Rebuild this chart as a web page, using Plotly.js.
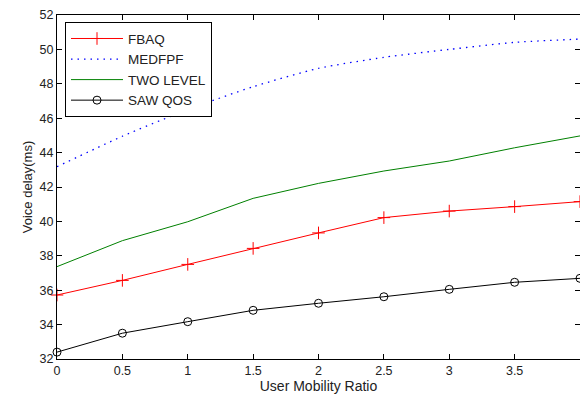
<!DOCTYPE html>
<html>
<head>
<meta charset="utf-8">
<script src="https://cdn.plot.ly/plotly-3.0.1.min.js"></script>
<style>
html,body{margin:0;padding:0;background:#fff;}
#chart{width:580px;height:394px;}
</style>
</head>
<body>
<div id="chart"></div>
<script>
var mobilityRatio = [0, 0.5, 1, 1.5, 2, 2.5, 3, 3.5, 4];
var fbaq      = [35.72, 36.57, 37.50, 38.43, 39.33, 40.22, 40.60, 40.86, 41.15];
var medfpf    = [43.18, 44.95, 46.50, 47.83, 48.90, 49.54, 50.00, 50.41, 50.60];
var twoLevel  = [37.37, 38.88, 39.98, 41.34, 42.21, 42.93, 43.51, 44.28, 44.97];
var sawQos    = [32.40, 33.50, 34.17, 34.83, 35.24, 35.62, 36.05, 36.46, 36.69];
var seriesNames = ['FBAQ', 'MEDFPF', 'TWO LEVEL', 'SAW QOS'];
var xTicks = [0, 0.5, 1, 1.5, 2, 2.5, 3, 3.5, 4];
var yTicks = [32, 34, 36, 38, 40, 42, 44, 46, 48, 50, 52];

var fam = 'Liberation Sans, Arial, sans-serif';
var tickFont = {family: fam, size: 12.5, color: '#222'};

var traces = [
  {x: mobilityRatio, y: fbaq, name: seriesNames[0], mode: 'lines+markers',
   line: {color: '#ff0000', width: 1},
   marker: {symbol: 'cross-thin-open', size: 9, color: '#ff0000', line: {color: '#ff0000', width: 1}},
   cliponaxis: false},
  {x: mobilityRatio, y: medfpf, name: seriesNames[1], mode: 'lines',
   line: {color: '#0000ff', width: 1.3, dash: '1.5px,5px', shape: 'spline', smoothing: 0.6}},
  {x: mobilityRatio, y: twoLevel, name: seriesNames[2], mode: 'lines',
   line: {color: '#008000', width: 1}},
  {x: mobilityRatio, y: sawQos, name: seriesNames[3], mode: 'lines+markers',
   line: {color: '#000000', width: 1},
   marker: {symbol: 'circle-open', size: 8, color: '#000000', line: {color: '#000000', width: 1}},
   cliponaxis: false}
];

var axisCommon = {
  showgrid: false, zeroline: false, showline: true, linecolor: '#000', linewidth: 1,
  mirror: 'ticks', ticks: 'inside', ticklen: 5, tickcolor: '#000', tickwidth: 1,
  tickfont: tickFont
};

var layout = {
  width: 580, height: 394,
  margin: {l: 57, r: 0, t: 15, b: 35},
  paper_bgcolor: '#fff', plot_bgcolor: '#fff',
  font: tickFont,
  showlegend: true,
  legend: {x: 0.0153, y: 0.979, xanchor: 'left', yanchor: 'top',
           bgcolor: '#fff', bordercolor: '#000', borderwidth: 1,
           font: {family: fam, size: 13.5, color: '#222'},
           tracegroupgap: 0, itemwidth: 52},
  xaxis: Object.assign({}, axisCommon, {
    range: [0, 4], tickvals: xTicks, ticktext: xTicks.map(String),
    title: {text: 'User Mobility Ratio', font: {family: fam, size: 14, color: '#222'}, standoff: 4}
  }),
  yaxis: Object.assign({}, axisCommon, {
    range: [32, 52], tickvals: yTicks, ticktext: yTicks.map(String),
    title: {text: 'Voice delay(ms)', font: {family: fam, size: 13, color: '#222'}, standoff: 4}
  })
};

Plotly.newPlot('chart', traces, layout, {displayModeBar: false, staticPlot: true});
</script>
</body>
</html>
